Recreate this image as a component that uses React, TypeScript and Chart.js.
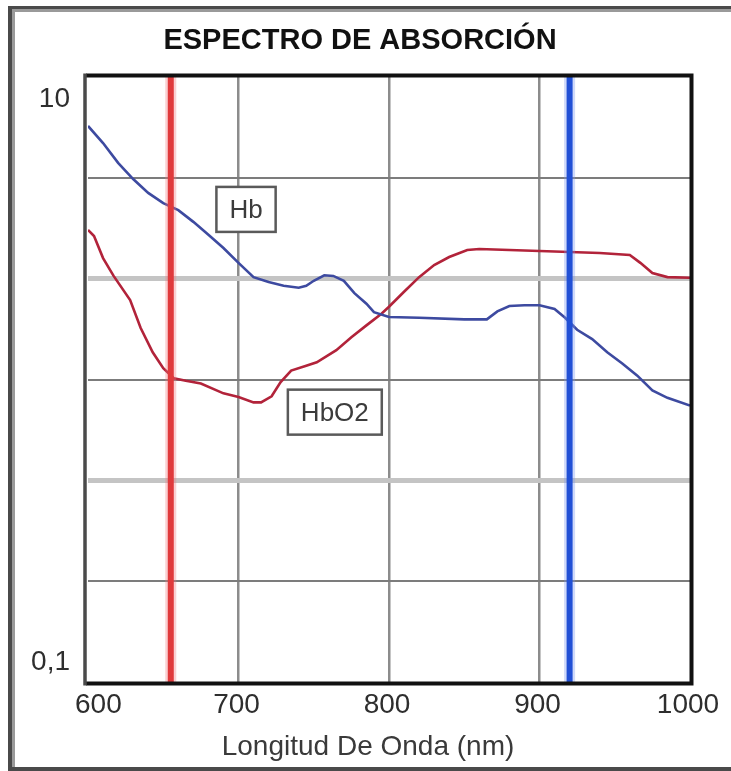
import { useEffect, useRef } from "react";
import { Chart, registerables } from "chart.js";

Chart.register(...registerables);

// Absorption spectrum of deoxy-haemoglobin (Hb), wavelength in nm
const hbWavelengths = [
  600, 610, 620, 630, 640, 650, 660, 670, 680, 690, 700, 710, 720, 730, 740, 745,
  750, 757, 763, 770, 777, 785, 790, 800, 820, 850, 865, 872, 880, 890, 900, 910,
  917, 925, 935, 945, 955, 965, 975, 985, 1000,
];
const hbValues = [
  6.89, 6.05, 5.2, 4.6, 4.14, 3.83, 3.63, 3.32, 3.01, 2.72, 2.43, 2.18, 2.1, 2.04, 2.01, 2.04,
  2.12, 2.21, 2.2, 2.12, 1.93, 1.78, 1.67, 1.61, 1.6, 1.58, 1.58, 1.68, 1.75, 1.76, 1.76, 1.71,
  1.6, 1.46, 1.36, 1.23, 1.13, 1.03, 0.92, 0.87, 0.82,
];

// Absorption spectrum of oxy-haemoglobin (HbO2)
const hbo2Wavelengths = [
  600, 604, 610, 617, 628, 635, 643, 650, 657, 665, 675, 690, 700, 710, 715, 722,
  728, 735, 745, 752, 765, 775, 785, 795, 800, 810, 820, 830, 840, 852, 860, 900,
  920, 940, 960, 967, 975, 985, 1000,
];
const hbo2Values = [
  3.12, 2.98, 2.52, 2.2, 1.83, 1.48, 1.23, 1.09, 1.01, 0.99, 0.97, 0.9, 0.875, 0.84, 0.84, 0.88,
  0.98, 1.07, 1.11, 1.14, 1.25, 1.38, 1.51, 1.65, 1.74, 1.95, 2.18, 2.39, 2.54, 2.68, 2.7, 2.66,
  2.64, 2.62, 2.58, 2.43, 2.25, 2.18, 2.17,
];

// LED emission wavelengths (nm)
const redLedNm = 655;
const infraredLedNm = 920;

// Axis ticks
const xTickValues = [600, 700, 800, 900, 1000];
const xTickLabels = ["600", "700", "800", "900", "1000"];
const yGridExponents = [-1, -2 / 3, -1 / 3, 0, 1 / 3, 2 / 3, 1];
const yTickValues = [10, 0.1];
const yTickLabels = ["10", "0,1"];

// Curve name tags, anchored in data coordinates
const tagTexts = ["Hb", "HbO2"];
const tagWavelengths = [705, 764];
const tagValues = [3.65, 0.78];

const titleText = "ESPECTRO DE ABSORCIÓN";
const xAxisTitle = "Longitud De Onda (nm)";

const FONT = "'Liberation Sans', Arial, sans-serif";

const pts = (xs: number[], ys: number[]) => xs.map((x, i) => ({ x, y: ys[i] }));
const vline = (nm: number) => [
  { x: nm, y: 0.1 },
  { x: nm, y: 10 },
];

const decorPlugin = {
  id: "decor",
  beforeDraw(chart: any) {
    const { ctx, width, height } = chart;
    ctx.save();
    ctx.fillStyle = "#ffffff";
    ctx.fillRect(0, 0, width, height);
    // outer frame (open on the right)
    ctx.fillStyle = "#4a4a4a";
    ctx.fillRect(8, 6, width - 8, 3);
    ctx.fillRect(8, 6, 4, height - 6);
    ctx.fillRect(8, height - 4, width - 8, 4);
    ctx.fillStyle = "#9a9a9a";
    ctx.fillRect(12, 9, width - 12, 3);
    ctx.fillRect(12, 9, 3, height - 13);
    ctx.restore();
  },
  afterDatasetsDraw(chart: any) {
    const { ctx, chartArea } = chart;
    const { left, top, right, bottom } = chartArea;
    ctx.save();
    // plot frame
    ctx.strokeStyle = "#111111";
    ctx.lineWidth = 4;
    ctx.beginPath();
    ctx.moveTo(left - 2, top - 1.5);
    ctx.lineTo(right + 1.5, top - 1.5);
    ctx.lineTo(right + 1.5, bottom + 1.5);
    ctx.lineTo(left - 2, bottom + 1.5);
    ctx.stroke();
    ctx.strokeStyle = "#4a4a4a";
    ctx.lineWidth = 3.5;
    ctx.beginPath();
    ctx.moveTo(left - 3, top - 3.5);
    ctx.lineTo(left - 3, bottom + 3.5);
    ctx.stroke();

    // curve name tags
    const xs = chart.scales.x;
    const ys = chart.scales.y;
    ctx.font = `26px ${FONT}`;
    ctx.textAlign = "center";
    ctx.textBaseline = "alphabetic";
    tagTexts.forEach((t, i) => {
      const cx = xs.getPixelForValue(tagWavelengths[i]);
      const cy = ys.getPixelForValue(tagValues[i]);
      const w = ctx.measureText(t).width + 26;
      const h = 45;
      ctx.fillStyle = "#ffffff";
      ctx.fillRect(cx - w / 2, cy - h / 2, w, h);
      ctx.strokeStyle = "#5a5a5a";
      ctx.lineWidth = 2.5;
      ctx.strokeRect(cx - w / 2, cy - h / 2, w, h);
      ctx.fillStyle = "#3c3c3c";
      ctx.fillText(t, cx, cy + 9);
    });
    ctx.restore();
  },
  afterDraw(chart: any) {
    const { ctx, chartArea } = chart;
    const xs = chart.scales.x;
    const ys = chart.scales.y;
    ctx.save();
    // title
    ctx.fillStyle = "#111111";
    ctx.font = `bold 29px ${FONT}`;
    ctx.textAlign = "center";
    ctx.textBaseline = "alphabetic";
    ctx.fillText(titleText, 360, 49);

    // y tick labels
    ctx.fillStyle = "#2e2e2e";
    ctx.font = `28px ${FONT}`;
    ctx.textAlign = "right";
    yTickValues.forEach((v, i) => {
      const py = ys.getPixelForValue(v);
      const y = i === 0 ? py + 30 : py - 12;
      ctx.fillText(yTickLabels[i], chartArea.left - 18, y);
    });

    // x tick labels
    xTickValues.forEach((v, i) => {
      const px = xs.getPixelForValue(v);
      if (i === 0) {
        ctx.textAlign = "left";
        ctx.fillText(xTickLabels[i], px - 13, chartArea.bottom + 31);
      } else {
        ctx.textAlign = "center";
        ctx.fillText(xTickLabels[i], px - 2, chartArea.bottom + 31);
      }
    });

    // x axis title
    ctx.fillStyle = "#3a3a3a";
    ctx.textAlign = "center";
    ctx.fillText(xAxisTitle, 368, 755);
    ctx.restore();
  },
};

const lastX = xTickValues.length - 1;
const lastY = yGridExponents.length - 1;

export default function App() {
  const canvasRef = useRef<HTMLCanvasElement | null>(null);

  useEffect(() => {
    const canvas = canvasRef.current;
    if (!canvas) return;
    const chart = new Chart(canvas, {
      type: "line",
      data: {
        datasets: [
          {
            label: "LED rojo",
            data: vline(redLedNm),
            borderColor: "#e03a3c",
            borderWidth: 6,
            pointRadius: 0,
          },
          {
            label: "LED infrarrojo",
            data: vline(infraredLedNm),
            borderColor: "#2150d6",
            borderWidth: 6,
            pointRadius: 0,
          },
          {
            label: "halo rojo",
            data: vline(redLedNm),
            borderColor: "rgba(240,120,125,0.35)",
            borderWidth: 11,
            pointRadius: 0,
          },
          {
            label: "halo infrarrojo",
            data: vline(infraredLedNm),
            borderColor: "rgba(120,150,240,0.35)",
            borderWidth: 11,
            pointRadius: 0,
          },
          {
            label: "Hb",
            data: pts(hbWavelengths, hbValues),
            borderColor: "#3d4aa0",
            borderWidth: 2.6,
            pointRadius: 0,
            tension: 0,
          },
          {
            label: "HbO2",
            data: pts(hbo2Wavelengths, hbo2Values),
            borderColor: "#b2233a",
            borderWidth: 2.6,
            pointRadius: 0,
            tension: 0,
          },
        ],
      },
      options: {
        responsive: false,
        animation: false,
        events: [],
        layout: { padding: { left: 88, right: 41, top: 77, bottom: 89 } },
        plugins: {
          legend: { display: false },
          tooltip: { enabled: false },
          title: { display: false },
        },
        scales: {
          x: {
            type: "linear",
            min: 600,
            max: 1000,
            afterBuildTicks: (s: any) => {
              s.ticks = xTickValues.map((value) => ({ value }));
            },
            afterFit: (s: any) => {
              s.height = 0;
            },
            ticks: { display: false },
            grid: {
              drawTicks: false,
              color: (c: any) => (c.index === 0 || c.index === lastX ? "rgba(0,0,0,0)" : "#8c8c8c"),
              lineWidth: 2.5,
            },
            border: { display: false },
          },
          y: {
            type: "logarithmic",
            min: 0.1,
            max: 10,
            afterBuildTicks: (s: any) => {
              s.ticks = yGridExponents.map((e) => ({ value: Math.pow(10, e) }));
            },
            afterFit: (s: any) => {
              s.width = 0;
            },
            ticks: { display: false },
            grid: {
              drawTicks: false,
              color: (c: any) =>
                c.index === 0 || c.index === lastY
                  ? "rgba(0,0,0,0)"
                  : c.index === 2 || c.index === 4
                  ? "#c4c4c4"
                  : "#7c7c7c",
              lineWidth: (c: any) => (c.index === 2 || c.index === 4 ? 5 : 2),
            },
            border: { display: false },
          },
        },
      },
      plugins: [decorPlugin],
    } as any);
    return () => chart.destroy();
  }, []);

  return (
    <div style={{ position: "fixed", left: 0, top: 0, width: 731, height: 771, background: "#fff" }}>
      <canvas ref={canvasRef} width={731} height={771} style={{ display: "block" }} />
    </div>
  );
}
